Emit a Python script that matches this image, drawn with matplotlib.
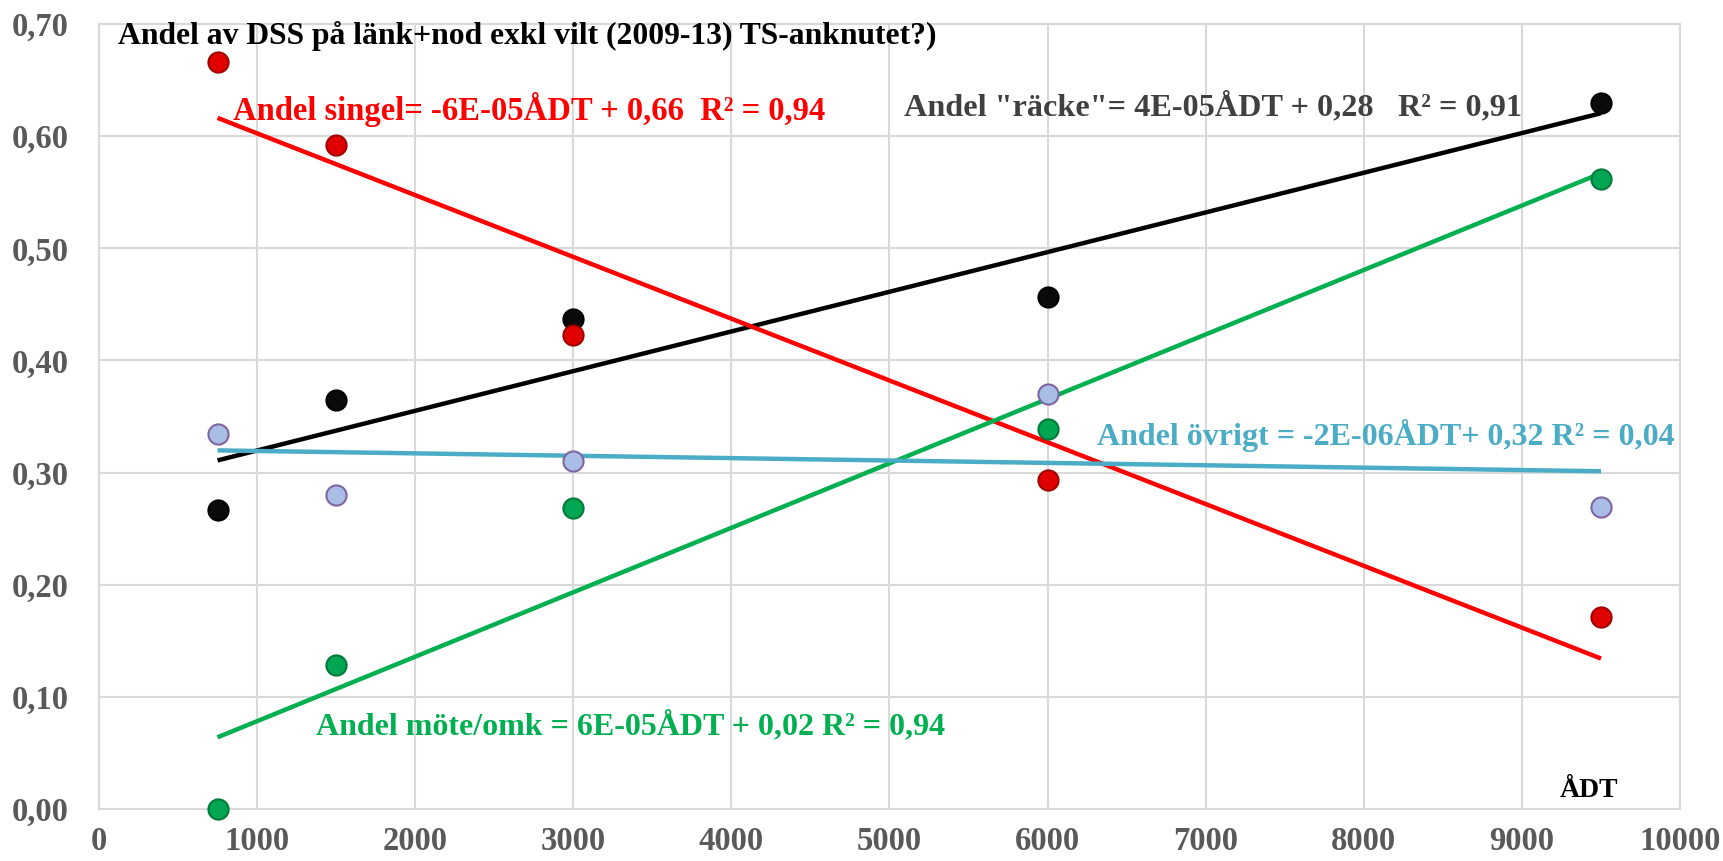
import numpy as np
import matplotlib
matplotlib.use("Agg")
import matplotlib.pyplot as plt
from matplotlib.ticker import FuncFormatter, MultipleLocator

# ---- data ----
adt = [750, 1500, 3000, 6000, 9500]
andel_racke = [0.267, 0.365, 0.437, 0.457, 0.630]
andel_singel = [0.666, 0.592, 0.423, 0.293, 0.171]
andel_mote = [0.000, 0.128, 0.268, 0.339, 0.562]
andel_ovrigt = [0.334, 0.280, 0.310, 0.370, 0.269]

title = "Andel av DSS på länk+nod exkl vilt (2009-13) TS-anknutet?)"
eq_singel = "Andel singel= -6E-05ÅDT + 0,66  R² = 0,94"
eq_racke = "Andel \"räcke\"= 4E-05ÅDT + 0,28   R² = 0,91"
eq_ovrigt = "Andel övrigt = -2E-06ÅDT+ 0,32 R² = 0,04"
eq_mote = "Andel möte/omk = 6E-05ÅDT + 0,02 R² = 0,94"
xlabel = "ÅDT"

plt.rcParams['font.family'] = ['Liberation Serif', 'DejaVu Serif']
plt.rcParams['font.weight'] = 'bold'

fig = plt.figure(figsize=(17.24, 8.61), dpi=100)
ax = fig.add_axes([0.0574, 0.0604, 0.9171, 0.9116])
ax.set_xlim(0, 10000)
ax.set_ylim(0, 0.70)
ax.xaxis.set_major_locator(MultipleLocator(1000))
ax.yaxis.set_major_locator(MultipleLocator(0.1))
ax.grid(True, color='#D9D9D9', linewidth=1.5)
ax.set_axisbelow(True)
for s in ax.spines.values():
    s.set_color('#D9D9D9')
    s.set_linewidth(1.5)
ax.tick_params(length=0, labelsize=23.5, labelcolor='#595959')
ax.tick_params(axis='y', pad=22)
ax.tick_params(axis='x', pad=12)
ax.yaxis.set_major_formatter(FuncFormatter(lambda v, p: f"{v:.2f}".replace('.', ',')))
ax.xaxis.set_major_formatter(FuncFormatter(lambda v, p: f"{int(round(v))}"))
for lab in ax.get_xticklabels() + ax.get_yticklabels():
    lab.set_fontweight('bold')

series = [
    (andel_racke, '#0A0A0A', '#000000', '#000000'),
    (andel_singel, '#E00000', '#A00000', '#FF0000'),
    (andel_mote, '#00A651', '#007A3A', '#00B050'),
    (andel_ovrigt, '#A9BEE6', '#8064A2', '#4BACC6'),
]
x = np.array(adt, dtype=float)
xs = np.array([x.min(), x.max()])
for ys, fc, ec, lc in series:
    ys = np.array(ys)
    k, m = np.polyfit(x, ys, 1)
    ax.plot(xs, k * xs + m, color=lc, linewidth=3.2, zorder=2, solid_capstyle='butt')
for ys, fc, ec, lc in series:
    ax.plot(x, ys, linestyle='none', marker='o', markersize=14.5, markerfacecolor=fc,
            markeredgecolor=ec, markeredgewidth=1.5, zorder=3, clip_on=False)

ax.text(118, 0.689, title, fontsize=22.8, fontweight='bold', color='black', va='center')
ax.text(849, 0.6234, eq_singel, fontsize=23.5, fontweight='bold', color='#FF0000', va='center')
ax.text(5094, 0.626, eq_racke, fontsize=23.2, fontweight='bold', color='#404040', va='center')
ax.text(6312, 0.3328, eq_ovrigt, fontsize=23, fontweight='bold', color='#4BACC6', va='center')
ax.text(1371, 0.0736, eq_mote, fontsize=23, fontweight='bold', color='#00B050', va='center')
ax.text(9241, 0.0167, xlabel, fontsize=20, fontweight='bold', color='black', va='center')

fig.savefig("out.png", dpi=100)
